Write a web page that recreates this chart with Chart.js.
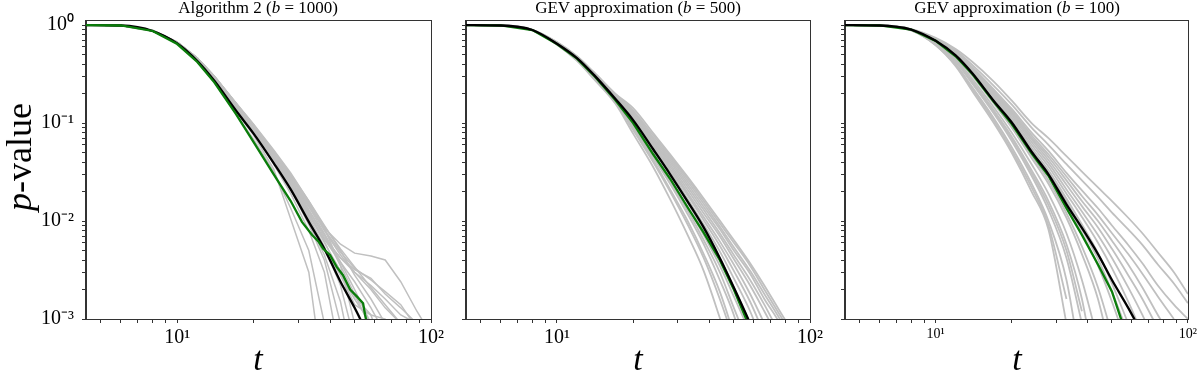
<!DOCTYPE html>
<html>
<head>
<meta charset="utf-8">
<script src="https://cdn.jsdelivr.net/npm/chart.js@4.4.1/dist/chart.umd.min.js"></script>
<style>
  body { margin: 0; background: #fff; }
  #wrap { position: relative; width: 1200px; height: 375px; overflow: hidden; font-family: 'Liberation Serif', 'Times New Roman', serif; color: #000; }
  canvas { position: absolute; top: 0; }
  .ttl { position: absolute; top: -1px; width: 320px; font-size: 17px; line-height: 17px; text-align: center; white-space: nowrap; }
  .xl { position: absolute; top: 342px; width: 60px; font-size: 34px; line-height: 34px; text-align: center; font-style: italic; }
  .yl { position: absolute; left: 19px; top: 157px; font-size: 36px; line-height: 36px; white-space: nowrap; transform: translate(-50%, -50%) rotate(-90deg); }
</style>
</head>
<body>
<div id="wrap">
  <canvas id="c1" width="460" height="375" style="left:0px"></canvas>
  <canvas id="c2" width="410" height="375" style="left:430px"></canvas>
  <canvas id="c3" width="390" height="375" style="left:810px"></canvas>
  <div class="ttl" style="left:98px">Algorithm 2 (<i>b</i> = 1000)</div>
  <div class="ttl" style="left:478px">GEV approximation (<i>b</i> = 500)</div>
  <div class="ttl" style="left:857px">GEV approximation (<i>b</i> = 100)</div>
  <div class="yl"><i>p</i>-value</div>
  <div class="xl" style="left:228px">t</div>
  <div class="xl" style="left:608px">t</div>
  <div class="xl" style="left:987px">t</div>
</div>
<script>
// threshold values t shared by most curves
const tGrid = [4.37, 6, 8, 10, 12, 14, 17, 20, 24, 28, 33, 38, 44, 50, 58, 66, 76, 88, 100];

const xTickValues = [5, 6, 7, 8, 9, 10, 20, 30, 40, 50, 60, 70, 80, 90, 100];
const yTickValues = [0.001, 0.002, 0.003, 0.004, 0.005, 0.006, 0.007, 0.008, 0.009,
  0.01, 0.02, 0.03, 0.04, 0.05, 0.06, 0.07, 0.08, 0.09,
  0.1, 0.2, 0.3, 0.4, 0.5, 0.6, 0.7, 0.8, 0.9, 1];

// panel 1: Algorithm 2 (b = 1000)
const alg2Black = [1, .99, .87, .65, .43, .27, .135, .078, .039, .021, .0098, .0052, .0024, .0013, .0006];
const alg2GreenT = [4.37, 6, 8, 10, 12, 14, 17, 20, 24, 28, 31, 34, 36, 37.6, 40, 42.5, 45, 48, 51, 54, 55, 57];
const alg2Green = [1, .99, .87, .64, .42, .26, .125, .064, .03, .016, .0098, .0072, .0062, .0052, .0045, .0034, .0028, .002, .0017, .00145, .0011, .0007];
const alg2Gray = [
  [1, .99, .88, .66, .44, .28, .14, .08, .038, .019, .008, .003, .0004],
  [1, .99, .88, .67, .45, .29, .15, .085, .042, .022, .0095, .0045, .0015, .0003],
  [1, .99, .88, .67, .45, .29, .15, .088, .046, .026, .014, .0085, .0058, .0047, .0044, .004, .0024, .0012, .0007],
  [1, .99, .88, .66, .45, .29, .15, .09, .047, .025, .012, .0065, .0038, .0024, .0013, .0007],
  [1, .99, .88, .67, .46, .3, .16, .092, .048, .027, .013, .0072, .0035, .0018, .0008],
  [1, .99, .88, .66, .44, .28, .145, .084, .044, .024, .011, .0055, .0022, .0006],
  [1, .99, .88, .67, .45, .29, .155, .09, .05, .029, .015, .008, .0045, .003, .002, .0013, .0009],
  [1, .99, .87, .65, .43, .27, .135, .075, .034, .0105, .003, .0002],
  [1, .99, .88, .66, .44, .28, .148, .088, .046, .026, .013, .0068, .0042, .003, .0022, .0016, .0011, .0009],
  [1, .99, .88, .67, .46, .3, .16, .095, .052, .03, .016, .009, .005, .0028, .0016, .0009],
  [1, .99, .87, .66, .44, .28, .14, .08, .04, .021, .0092, .004, .0009],
  [1, .99, .88, .66, .45, .29, .15, .086, .044, .023, .0105, .0052, .0028, .0016, .0009],
  [1, .99, .87, .65, .42, .26, .125, .068, .032, .0135, .005, .0009],
  [1, .99, .88, .67, .46, .3, .16, .094, .05, .028, .014, .0075, .0038, .002, .0009],
  [1, .99, .88, .67, .46, .3, .158, .093, .049, .028, .0145, .0082, .0048, .0033, .0025, .0019, .0014, .0008],
  [1, .99, .88, .66, .45, .29, .152, .089, .046, .025, .0118, .006, .0031, .0017, .0011, .0004],
  [1, .99, .88, .67, .46, .3, .162, .097, .053, .031, .016, .0085, .0035, .0009],
  [1, .99, .88, .66, .44, .28, .146, .086, .045, .025, .0125, .0062, .0028, .0014, .0011, .001, .0004],
  [1, .99, .88, .66, .45, .29, .15, .087, .045, .024, .0115, .0065, .0042, .0032, .0026, .0018, .0013, .0009],
  [1, .99, .88, .67, .46, .3, .16, .096, .051, .029, .0155, .0088, .0052, .0034, .0021, .0014, .0009]
];

// panel 2: GEV approximation (b = 500)
const gev500Black = [1, .99, .89, .645, .46, .31, .177, .107, .054, .03, .0155, .0086, .0042, .0021, .0009, .0004];
const gev500Green = [1, .99, .89, .64, .455, .305, .172, .1, .048, .027, .0135, .0076, .004, .002, .0008, .0003];
const gev500Gray = [
  [1, .99, .88, .63, .43, .28, .158, .078, .0356, .0167, .007, .0031, .00103, .00037],
  [1, .99, .88, .635, .44, .29, .165, .085, .04, .02, .009, .0042, .0016, .0006, .00015],
  [1, .99, .885, .64, .445, .295, .17, .092, .045, .024, .0115, .0058, .0025, .0011, .0003],
  [1, .99, .885, .645, .45, .3, .175, .098, .049, .027, .0135, .0072, .0035, .0017, .0007, .00025],
  [1, .99, .89, .65, .46, .31, .18, .108, .055, .032, .0165, .0092, .0049, .0026, .0012, .0005],
  [1, .99, .89, .655, .465, .315, .185, .115, .06, .036, .019, .011, .0062, .0036, .0018, .0009, .0004],
  [1, .99, .89, .66, .47, .32, .19, .122, .065, .04, .022, .013, .0075, .0045, .0025, .0014, .0007],
  [1, .99, .89, .665, .475, .325, .195, .13, .071, .044, .025, .015, .0088, .0054, .0031, .0018, .001, .0005],
  [1, .99, .895, .67, .48, .33, .2, .142, .079, .048, .0277, .017, .0101, .0064, .0037, .0022, .0012, .00065, .00038],
  [1, .99, .885, .638, .442, .292, .168, .088, .042, .021, .0098, .0046, .0019, .0007, .0002],
  [1, .99, .887, .643, .448, .298, .172, .095, .047, .0255, .0125, .0064, .003, .0013, .0005],
  [1, .99, .89, .648, .455, .305, .177, .103, .052, .0295, .015, .0082, .0042, .0021, .0009, .0004],
  [1, .99, .89, .653, .462, .312, .182, .111, .058, .034, .018, .0102, .0056, .0031, .0015, .0007, .0003],
  [1, .99, .89, .658, .468, .318, .188, .118, .063, .038, .0205, .012, .007, .0041, .0022, .0012, .0006],
  [1, .99, .89, .662, .472, .322, .192, .126, .068, .042, .0235, .014, .0083, .005, .0029, .0016, .0009, .0004],
  [1, .99, .89, .668, .478, .328, .197, .134, .075, .046, .0265, .016, .0095, .006, .0035, .002, .0011, .0006]
];

// panel 3: GEV approximation (b = 100)
const gev100Black = [1, .99, .9, .69, .49, .32, .168, .102, .051, .03, .0148, .0085, .0046, .0025, .0013, .0007];
const gev100Green = [1, .99, .9, .69, .48, .315, .165, .098, .049, .029, .0135, .0072, .0036, .0019, .0006];
const gev100Gray = [
  [1, .99, .88, .62, .38, .21, .1, .05, .02, .0082, .0009],
  [1, .99, .88, .63, .4, .23, .112, .057, .024, .01, .0025, .0003],
  [1, .99, .89, .64, .42, .25, .125, .066, .029, .013, .0042, .0009],
  [1, .99, .89, .65, .43, .265, .135, .073, .033, .016, .0058, .0016, .0002],
  [1, .99, .89, .66, .45, .28, .145, .08, .038, .019, .0075, .0025, .0006],
  [1, .99, .9, .68, .48, .31, .165, .095, .047, .026, .012, .0055, .0021, .0007],
  [1, .99, .9, .685, .49, .32, .172, .1, .051, .029, .0145, .0075, .0035, .0015, .0005],
  [1, .99, .9, .69, .5, .33, .18, .108, .056, .033, .017, .0092, .0047, .0023, .0009],
  [1, .99, .9, .7, .51, .345, .195, .12, .064, .039, .021, .0125, .0072, .0042, .0021, .0011, .0005],
  [1, .99, .9, .7, .52, .355, .205, .13, .071, .045, .026, .016, .01, .0063, .0036, .0021, .0011, .0006],
  [1, .99, .9, .71, .53, .37, .22, .14, .08, .052, .031, .0205, .0135, .009, .0057, .0037, .0022, .0014, .001],
  [1, .99, .9, .72, .55, .39, .24, .155, .09, .06, .038, .026, .0175, .0122, .0082, .0057, .0036, .0023, .00145],
  [1, .99, .91, .74, .57, .42, .265, .17, .1, .07, .046, .032, .022, .016, .0108, .0075, .0048, .003, .0018],
  [1, .99, .885, .625, .39, .22, .106, .053, .022, .009, .0016],
  [1, .99, .89, .645, .425, .258, .13, .07, .031, .0145, .005, .0012],
  [1, .99, .9, .675, .47, .3, .158, .09, .044, .024, .0108, .0046, .0016, .0004],
  [1, .99, .9, .688, .495, .325, .176, .104, .053, .031, .0158, .0083, .0041, .0019, .0007],
  [1, .99, .9, .695, .505, .338, .188, .114, .06, .036, .019, .011, .006, .0033, .0015, .0007],
  [1, .99, .9, .705, .515, .35, .2, .125, .068, .042, .0235, .0142, .0086, .0052, .0028, .0016, .0008],
  [1, .99, .9, .705, .525, .362, .212, .135, .075, .048, .0285, .018, .0115, .0075, .0046, .0029, .0017, .001]
];

const SUP = { '0': '\u2070', '1': '\u00b9', '2': '\u00b2', '3': '\u00b3', '-': '\u207b' };
function powLabel(v) {
  const e = Math.log10(v);
  const r = Math.round(e);
  if (Math.abs(e - r) > 1e-6) return '';
  return '10' + String(r).split('').map(c => SUP[c]).join('');
}

function pts(arr, ts) {
  const xs = ts || tGrid;
  return arr.map((p, i) => ({ x: xs[i], y: p }));
}

function line(data, color, width, smooth) {
  return {
    data,
    borderColor: color,
    borderWidth: width,
    pointRadius: 0,
    fill: false,
    clip: 0,
    tension: 0,
    cubicInterpolationMode: smooth ? 'monotone' : 'default'
  };
}

const frame = {
  id: 'frame',
  afterDatasetsDraw(chart) {
    const a = chart.chartArea, c = chart.ctx;
    c.save();
    c.strokeStyle = '#333';
    c.lineWidth = 1;
    c.strokeRect(Math.round(a.left) - 0.5, Math.round(a.top) - 0.5, Math.round(a.right - a.left) + 1, Math.round(a.bottom - a.top) + 1);
    c.restore();
  }
};

function makePanel(id, opt) {
  const grays = opt.gray.map(g => line(pts(g), '#c0c0c0', opt.grayWidth, opt.smoothGray));
  const black = line(pts(opt.black), '#000', 2.3, true);
  const green = line(pts(opt.green, opt.greenT), '#0a7d0a', 2.3, false);
  // first dataset is painted last (on top)
  const datasets = opt.greenOnTop ? [green, black, ...grays] : [black, green, ...grays];

  new Chart(document.getElementById(id), {
    type: 'line',
    data: { datasets },
    options: {
      responsive: false,
      animation: false,
      devicePixelRatio: 1,
      layout: { padding: { top: 21, right: opt.padRight, left: 0, bottom: 0 } },
      plugins: { legend: { display: false }, tooltip: { enabled: false }, title: { display: false } },
      scales: {
        x: {
          type: 'logarithmic',
          min: 4.37,
          max: 100,
          afterBuildTicks: s => { s.ticks = xTickValues.map(v => ({ value: v })); },
          afterFit: s => { s.height = 56; },
          grid: { drawOnChartArea: false, drawTicks: true, tickLength: 4, color: '#333' },
          border: { display: true, color: '#333', width: 1 },
          ticks: {
            autoSkip: false, maxRotation: 0, padding: 3, color: '#000',
            font: { family: "'Liberation Serif', serif", size: opt.xFont },
            callback: v => powLabel(v)
          }
        },
        y: {
          type: 'logarithmic',
          min: 0.001,
          max: 1.1,
          afterBuildTicks: s => { s.ticks = yTickValues.map(v => ({ value: v })); },
          afterFit: s => { s.width = opt.yWidth; },
          grid: { drawOnChartArea: false, drawTicks: true, tickLength: 4, color: '#333' },
          border: { display: true, color: '#333', width: 1 },
          ticks: {
            autoSkip: false, padding: 8, color: '#000',
            font: { family: "'Liberation Serif', serif", size: 20 },
            callback: v => opt.yLabels ? powLabel(v) : ''
          }
        }
      }
    },
    plugins: [frame]
  });
}

makePanel('c1', { black: alg2Black, green: alg2Green, greenT: alg2GreenT, gray: alg2Gray, grayWidth: 1.5, smoothGray: false, greenOnTop: true, yWidth: 86, padRight: 29, xFont: 20, yLabels: true });
makePanel('c2', { black: gev500Black, green: gev500Green, gray: gev500Gray, grayWidth: 1.8, smoothGray: true, greenOnTop: false, yWidth: 36, padRight: 30, xFont: 20, yLabels: false });
makePanel('c3', { black: gev100Black, green: gev100Green, gray: gev100Gray, grayWidth: 1.8, smoothGray: true, greenOnTop: false, yWidth: 35, padRight: 11, xFont: 14, yLabels: false });
</script>
</body>
</html>
